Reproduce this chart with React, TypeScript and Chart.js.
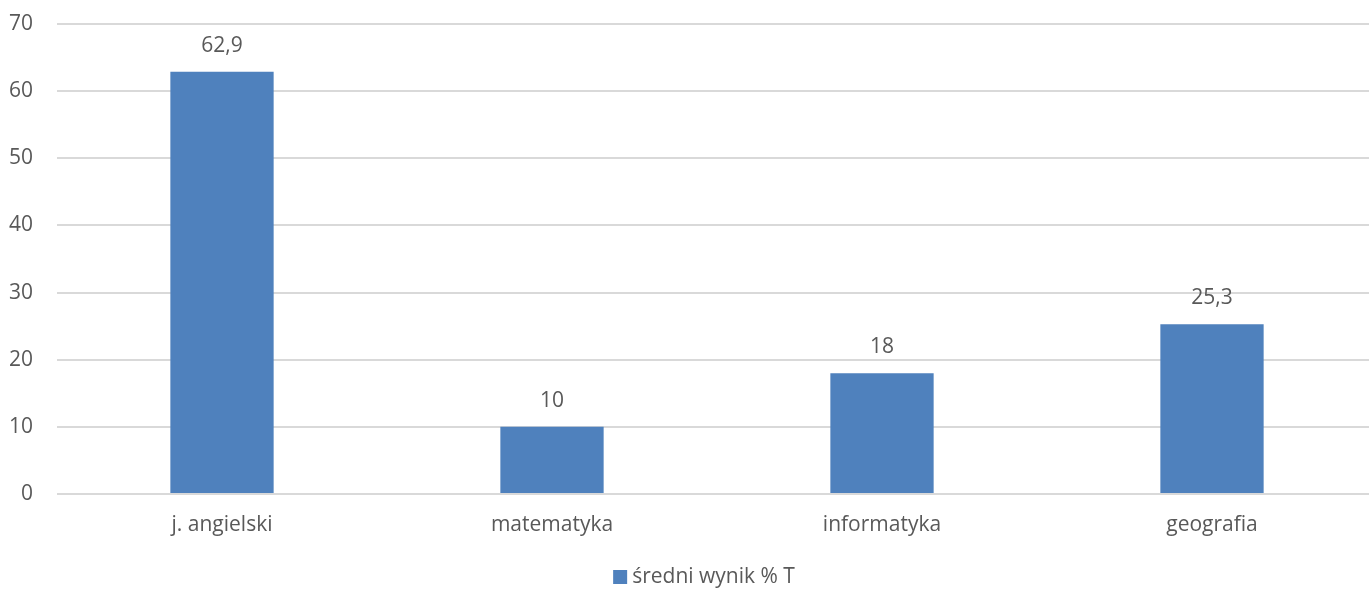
import React, { useEffect, useRef } from "react";
import { Chart, registerables } from "chart.js";

Chart.register(...registerables);

const categories = ["j. angielski", "matematyka", "informatyka", "geografia"];
const seriesLabel = "średni wynik % T";
const seriesValues = [62.9, 10, 18, 25.3];
const yTicks = [0, 10, 20, 30, 40, 50, 60, 70];

const FONT = "'Open Sans', sans-serif";
const FS = 21;
const TEXT = "#595959";
const BAR = "#4F81BD";

const valueLabels = {
  id: "valueLabels",
  afterDatasetsDraw(chart: any) {
    const ctx = chart.ctx;
    const meta = chart.getDatasetMeta(0);
    const data = chart.data.datasets[0].data as number[];
    ctx.save();
    ctx.font = `${FS}px ${FONT}`;
    ctx.fillStyle = TEXT;
    ctx.textAlign = "center";
    ctx.textBaseline = "middle";
    meta.data.forEach((bar: any, i: number) => {
      const txt = String(data[i]).replace(".", ",");
      ctx.fillText(txt, bar.x, bar.y - 26);
    });
    ctx.restore();
  },
};

const bottomLegend = {
  id: "bottomLegend",
  afterDraw(chart: any) {
    const ctx = chart.ctx;
    const ds = chart.data.datasets[0];
    const label = ds.label as string;
    ctx.save();
    ctx.font = `${FS}px ${FONT}`;
    const box = 14;
    const gap = 5;
    const tw = ctx.measureText(label).width;
    const total = box + gap + tw;
    const cx = 704;
    const cy = chart.chartArea.bottom + 83;
    const x0 = cx - total / 2;
    ctx.fillStyle = ds.backgroundColor;
    ctx.fillRect(x0, cy - box / 2, box, box);
    ctx.fillStyle = TEXT;
    ctx.textAlign = "left";
    ctx.textBaseline = "middle";
    ctx.fillText(label, x0 + box + gap, cy);
    ctx.restore();
  },
};

export default function App() {
  const ref = useRef<HTMLCanvasElement>(null);
  useEffect(() => {
    if (!ref.current) return;
    const chart = new Chart(ref.current, {
      type: "bar",
      data: {
        labels: categories,
        datasets: [
          {
            label: seriesLabel,
            data: seriesValues,
            backgroundColor: BAR,
            borderWidth: 0,
            barPercentage: 0.313,
            categoryPercentage: 1,
          },
        ],
      },
      options: {
        animation: false,
        responsive: false,
        maintainAspectRatio: false,
        layout: { padding: { top: 24, right: 0, bottom: 0, left: 0 } },
        plugins: {
          tooltip: { enabled: false },
          legend: { display: false },
        },
        scales: {
          x: {
            grid: { display: false, drawTicks: false },
            border: { display: false },
            ticks: {
              font: { family: FONT, size: FS },
              color: TEXT,
              padding: 18,
            },
            afterFit(scale: any) {
              scale.height = 96;
            },
          },
          y: {
            min: 0,
            max: 70,
            afterBuildTicks(scale: any) {
              scale.ticks = yTicks.map((v) => ({ value: v }));
            },
            grid: { color: "#d9d9d9", lineWidth: 2, drawTicks: false },
            border: { display: false },
            ticks: {
              font: { family: FONT, size: FS },
              color: TEXT,
              padding: 24,
            },
            afterFit(scale: any) {
              scale.width = 57;
              scale.paddingTop = 0;
            },
          },
        },
      },
      plugins: [valueLabels, bottomLegend],
    });
    return () => chart.destroy();
  }, []);
  return (
    <div style={{ position: "absolute", left: 0, top: 0, width: 1369, height: 590, overflow: "hidden", background: "#fff" }}>
      <canvas ref={ref} width={1377} height={590} style={{ display: "block" }} />
    </div>
  );
}
